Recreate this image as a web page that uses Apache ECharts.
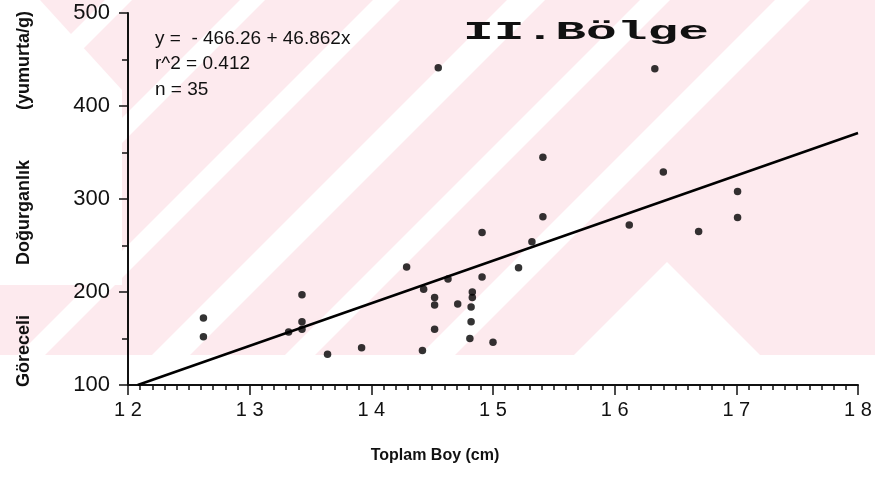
<!DOCTYPE html>
<html>
<head>
<meta charset="utf-8">
<script src="https://cdn.jsdelivr.net/npm/echarts@6/dist/echarts.min.js"></script>
<style>
html,body{margin:0;padding:0;background:#fff;}
#main{width:875px;height:485px;}
</style>
</head>
<body>
<div id="main"></div>
<script>
// toplam boy (cm)
var boy = [12.62, 12.62, 13.43, 13.43, 13.43, 13.32, 13.64, 13.92, 14.29, 14.91,
	15.41, 15.32, 15.21, 14.63, 14.91, 14.43, 14.52, 14.52, 14.71, 14.83,
	14.83, 14.82, 14.82, 14.52, 14.81, 15.00, 14.42, 16.40, 17.01, 17.01,
	16.12, 16.69, 14.55, 16.33, 15.41];
// göreceli doğurganlık (yumurta/g)
var dogurganlik = [172, 152, 197, 168, 160, 157, 133, 140, 227, 264,
	281, 254, 226, 214, 216, 203, 194, 186, 187, 200,
	194, 184, 168, 160, 150, 146, 137, 329, 308, 280,
	272, 265, 441, 440, 345];
// regresyon doğrusu uçları
var fitX = [12.08, 18];
var fitY = [100, 371];
var xTicks = [12, 13, 14, 15, 16, 17, 18];
var yTicks = [100, 200, 300, 400, 500];

var pink = '#fdeaee';
// filigran (arka plan)
function stripe(c1, c2){
	return {type:'polygon', z:-10, silent:true,
		shape:{points:[[c1,0],[c2,0],[c2-355,355],[c1-355,355]]},
		style:{fill:'#fff'}};
}
var watermark = [
	{type:'rect', z:-11, silent:true, shape:{x:0,y:0,width:875,height:355}, style:{fill:pink}},
	stripe(105,132), stripe(240,265), stripe(373,400), stripe(507,545), stripe(640,670), stripe(775,810),
	{type:'polygon', z:-10, silent:true, shape:{points:[[0,0],[40,0],[122,90],[122,285],[0,285]]}, style:{fill:'#fff'}},
	{type:'polygon', z:-10, silent:true, shape:{points:[[667,262],[760,355],[574,355]]}, style:{fill:'#fff'}}
];

var myChart = echarts.init(document.getElementById('main'));
var pts = [];
for(var i=0;i<boy.length;i++){
	pts.push([boy[i], dogurganlik[i]]);
}
var fit = [];
for(var j=0;j<fitX.length;j++){
	fit.push([fitX[j], fitY[j]]);
}
var font = '"Liberation Sans", Arial, sans-serif';
var eqFont = '19px "Liberation Sans", Arial, sans-serif';
option = {
	animation:false,
	backgroundColor:'#fff',
	grid:{left:128, top:13, width:730, bottom:100},
	xAxis:{
		type:'value', min:xTicks[0], max:xTicks[xTicks.length-1], interval:1,
		axisLine:{onZero:false, lineStyle:{color:'#111', width:2}},
		axisTick:{length:10, lineStyle:{color:'#111', width:1.5}},
		minorTick:{show:true, splitNumber:10, length:5, lineStyle:{color:'#111', width:1.5}},
		splitLine:{show:false},
		axisLabel:{margin:15, color:'#111', fontSize:20, fontFamily:font,
			formatter:function(v){ var s=String(v); return s.charAt(0)+' '+s.charAt(1); }},
		name:'Toplam Boy (cm)', nameLocation:'middle', nameGap:63,
		nameTextStyle:{color:'#111', fontSize:16, fontWeight:'bold', fontFamily:font, padding:[0,116,0,0]}
	},
	yAxis:{
		type:'value', min:yTicks[0], max:yTicks[yTicks.length-1], interval:100,
		axisLine:{onZero:false, lineStyle:{color:'#111', width:2}},
		axisTick:{length:9, lineStyle:{color:'#111', width:1.5}},
		minorTick:{show:true, splitNumber:2, length:6, lineStyle:{color:'#111', width:1.5}},
		splitLine:{show:false},
		axisLabel:{margin:18, color:'#111', fontSize:22, fontFamily:font},
		name:'Göreceli          Doğurganlık          (yumurta/g)', nameLocation:'middle', nameGap:95, nameRotate:90,
		nameTextStyle:{color:'#111', fontSize:18, fontWeight:'bold', fontFamily:font}
	},
	graphic:watermark.concat([
		{type:'text', left:155, top:29, style:{text:'y =  - 466.26 + 46.862x', fill:'#111', font:eqFont}},
		{type:'text', left:155, top:54, style:{text:'r^2 = 0.412', fill:'#111', font:eqFont}},
		{type:'text', left:155, top:80, style:{text:'n = 35', fill:'#111', font:eqFont}},
		{type:'text', x:463, y:20, scaleX:2.05, style:{text:'II.Bölge', fill:'#111', font:'bold 25px "Liberation Mono", "Courier New", monospace'}}
	]),
	series:[
		{type:'scatter', data:pts, symbolSize:7.5, itemStyle:{color:'#000'}, z:3},
		{type:'line', data:fit, symbol:'none', lineStyle:{color:'#000', width:2.5}, z:2}
	]
};
myChart.setOption(option);
</script>
</body>
</html>
